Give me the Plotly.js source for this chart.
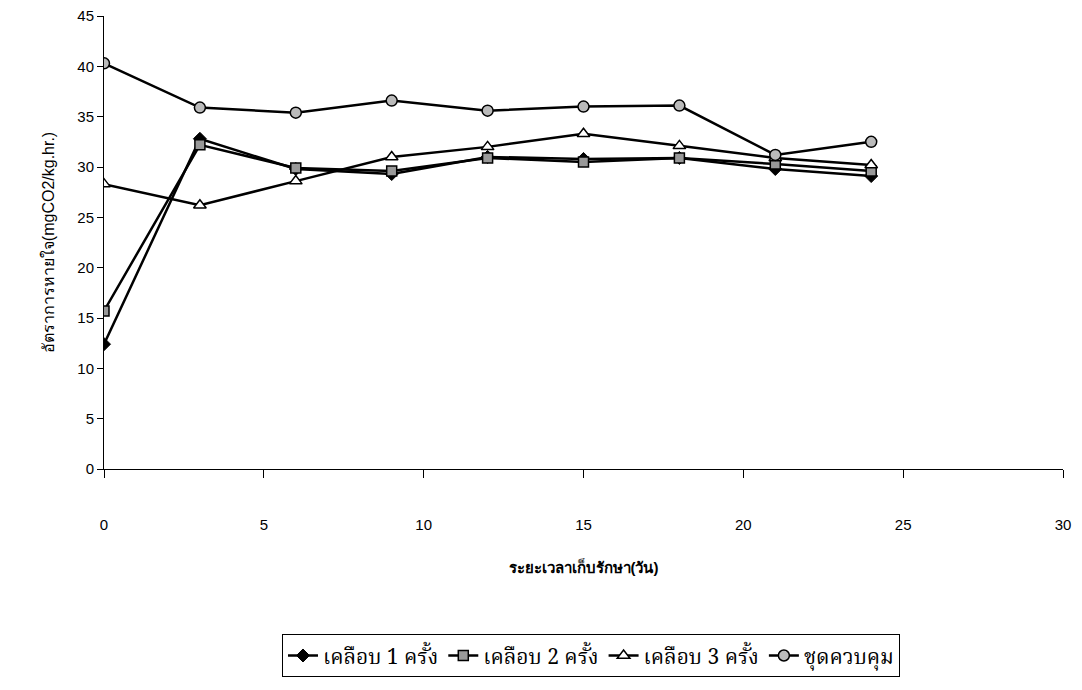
<!DOCTYPE html>
<html>
<head>
<meta charset="utf-8">
<script src="https://cdn.plot.ly/plotly-3.0.1.min.js"></script>
<style>html,body{margin:0;padding:0;background:#fff;}#chart{width:1082px;height:690px;}</style>
</head>
<body>
<div id="chart"></div>
<script>
const days = [0, 3, 6, 9, 12, 15, 18, 21, 24];
const coat1 = [12.4, 32.8, 29.8, 29.3, 31.0, 30.8, 30.9, 29.8, 29.1];
const coat2 = [15.7, 32.2, 29.9, 29.6, 30.9, 30.5, 30.9, 30.3, 29.6];
const coat3 = [28.3, 26.2, 28.6, 31.0, 32.0, 33.3, 32.1, 30.9, 30.2];
const control = [40.3, 35.9, 35.4, 36.6, 35.6, 36.0, 36.1, 31.2, 32.5];
const names = ['เคลือบ 1 ครั้ง', 'เคลือบ 2 ครั้ง', 'เคลือบ 3 ครั้ง', 'ชุดควบคุม'];
const yTitle = 'อัตราการหายใจ(mgCO2/kg.hr.)';
const xTitle = 'ระยะเวลาเก็บรักษา(วัน)';

const line = {color: '#000', width: 2.5};
const traces = [
  {x: days, y: coat1, name: names[0], mode: 'lines+markers', line: line,
   marker: {symbol: 'diamond', size: 10, color: '#000', line: {color: '#000', width: 1}}},
  {x: days, y: coat2, name: names[1], mode: 'lines+markers', line: line,
   marker: {symbol: 'square', size: 10, color: '#999', line: {color: '#000', width: 1.5}}},
  {x: days, y: coat3, name: names[2], mode: 'lines+markers', line: line,
   marker: {symbol: 'triangle-up', size: 11, color: '#fff', line: {color: '#000', width: 1.5}}},
  {x: days, y: control, name: names[3], mode: 'lines+markers', line: line,
   marker: {symbol: 'circle', size: 11, color: '#bbb', line: {color: '#000', width: 1.5}}}
];

const layout = {
  width: 1082, height: 690,
  margin: {l: 104, r: 19, t: 16, b: 221},
  paper_bgcolor: '#fff', plot_bgcolor: '#fff',
  font: {family: 'Liberation Sans, Arial, sans-serif', color: '#000', size: 15},
  showlegend: true,
  xaxis: {
    range: [0, 30], tickvals: [0, 5, 10, 15, 20, 25, 30],
    showgrid: false, zeroline: false, showline: true, linecolor: '#000', linewidth: 1,
    ticks: 'outside', ticklen: 8, tickcolor: '#000',
    ticklabelstandoff: 34, tickfont: {size: 15},
    title: {text: xTitle, font: {size: 15, weight: 'bold'}, standoff: 30}
  },
  yaxis: {
    range: [0, 45], tickvals: [0, 5, 10, 15, 20, 25, 30, 35, 40, 45],
    showgrid: false, zeroline: false, showline: true, linecolor: '#000', linewidth: 1,
    ticks: 'outside', ticklen: 6, tickcolor: '#000', tickfont: {size: 15},
    title: {text: yTitle, font: {size: 16}, standoff: 18}
  },
  legend: {
    orientation: 'h', x: 0.1856, xanchor: 'left', y: -0.365, yanchor: 'top',
    bordercolor: '#000', borderwidth: 1,
    font: {size: 21, family: 'Noto Serif Thai, Noto Sans Thai Looped, Loma, Norasi, Garuda, serif'},
    itemwidth: 30, tracegroupgap: 0
  }
};
Plotly.newPlot('chart', traces, layout, {displayModeBar: false});
</script>
</body>
</html>
